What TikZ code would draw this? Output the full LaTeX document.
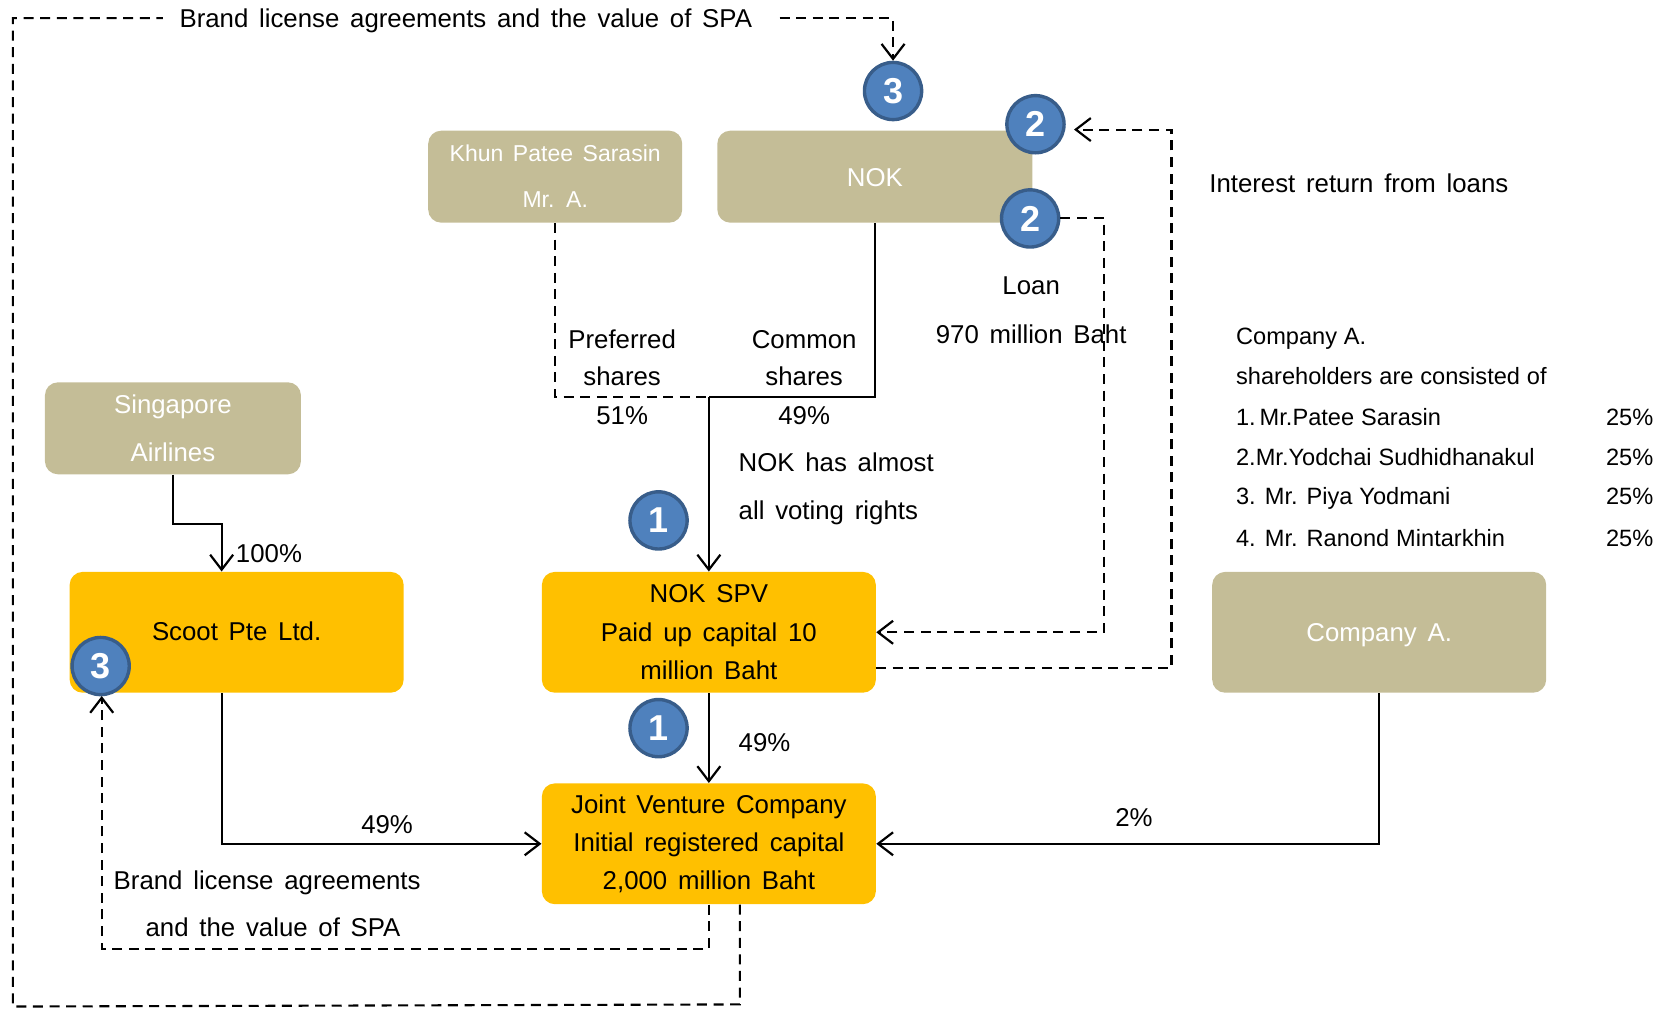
\documentclass[tikz,border=0pt]{standalone}
\usepackage{fontspec}
\setmainfont[WordSpace=1.5]{Liberation Sans}
\newfontfamily\tblfont[WordSpace=1.05]{Liberation Sans}
\usetikzlibrary{arrows.meta}
\definecolor{tan}{HTML}{C4BD97}
\definecolor{gold}{HTML}{FFC000}
\definecolor{ballfill}{HTML}{4F81BD}
\definecolor{ballline}{HTML}{385D8A}
\tikzset{
  x=0.5354pt,y=-0.5354pt,
  box/.style={rounded corners=6.5pt,minimum width=167pt,minimum height=60.4pt,inner sep=0pt,align=center,font=\fontsize{12.9}{19.1}\selectfont},
  tanbox/.style={box,fill=tan,text=white},
  goldbox/.style={box,fill=gold,text=black},
  ball/.style={circle,draw=ballline,line width=1.7pt,fill=ballfill,text=white,minimum size=28.6pt,inner sep=0pt,font=\fontsize{18}{18}\selectfont\bfseries},
  lbl/.style={anchor=base,inner sep=0pt,font=\fontsize{12.9}{15}\selectfont},
  lbll/.style={lbl,anchor=base west},
  tbl/.style={anchor=base west,inner sep=0pt,font=\tblfont\fontsize{11.8}{14}\selectfont},
  conn/.style={line width=1.1pt,black},
  dashln/.style={line width=1.05pt,black,dash pattern=on 5pt off 3.3pt},
  arrowed/.style={-{Straight Barb[length=7.5pt,width=11.5pt,line width=1.1pt]}},
}
\begin{document}
\begin{tikzpicture}
\useasboundingbox (0,0) rectangle (1568,943.2);
% boxes
\node[tanbox,minimum width=127pt,minimum height=46pt,font=\fontsize{11.5}{23}\selectfont] (khun) at (518.5,165) {\raisebox{0.7pt}{Khun Patee Sarasin}\\\raisebox{0.5pt}{Mr. A.}};
\node[tanbox,minimum width=157.5pt,minimum height=46pt] (nok) at (817,165) {\raisebox{-5pt}[0pt][0pt]{NOK}};
\node[tanbox,minimum width=128pt,minimum height=46pt,font=\fontsize{12.9}{24}\selectfont] (sing) at (161.5,400) {Singapore\\Airlines};
\node[goldbox] (scoot) at (221,590.5) {\raisebox{-3.9pt}[0pt][0pt]{Scoot Pte Ltd.}};
\node[goldbox] (spv) at (662,590.5) {NOK SPV\\Paid up capital 10\\million Baht};
\node[goldbox] (jv) at (662,788) {Joint Venture Company\\Initial registered capital\\2,000 million Baht};
\node[tanbox] (compa) at (1288,590.5) {\raisebox{-4.6pt}[0pt][0pt]{Company A.}};
% text labels
\node[lbl] (toplabel) at (435,26) {Brand license agreements and the value of SPA};
\node[lbl] (interest) at (1269,180) {Interest return from loans};
\node[lbl] (loan1) at (963,275) {Loan};
\node[lbl] (loan2) at (963,320.5) {970 million Baht};
\node[lbl] (pref1) at (581,325) {Preferred};
\node[lbl] (pref2) at (581,360) {shares};
\node[lbl] (pref3) at (581,396) {51\%};
\node[lbl] (comm1) at (751,325) {Common};
\node[lbl] (comm2) at (751,360) {shares};
\node[lbl] (comm3) at (751,396) {49\%};
\node[lbll] (vote1) at (689.5,440) {NOK has almost};
\node[lbll] (vote2) at (689.5,485) {all voting rights};
\node[lbll] (pct100) at (220,525) {100\%};
\node[lbll] (pct49b) at (689.5,702) {49\%};
\node[lbl] (pct49c) at (361.5,778) {49\%};
\node[lbl] (pct2) at (1059,772) {2\%};
\node[lbl] (brand1) at (249.5,831) {Brand license agreements};
\node[lbl] (brand2) at (255,875) {and the value of SPA};
\node[tbl] (t1) at (1154,322) {Company A.};
\node[tbl] (t2) at (1154,359) {shareholders are consisted of};
\node[tbl] (t3) at (1154,397) {1.\,Mr.Patee Sarasin};
\node[tbl] (t4) at (1154,435) {2.Mr.Yodchai Sudhidhanakul};
\node[tbl] (t5) at (1154,471) {3. Mr. Piya Yodmani};
\node[tbl] (t6) at (1154,510) {4. Mr. Ranond Mintarkhin};
\node[tbl] (p3) at (1499.5,397) {25\%};
\node[tbl] (p4) at (1499.5,435) {25\%};
\node[tbl] (p5) at (1499.5,471) {25\%};
\node[tbl] (p6) at (1499.5,510) {25\%};
% balls
\node[ball] (b3top) at (834,85) {3};
\node[ball] (b2up) at (967,116) {2};
\node[ball] (b2dn) at (962,204) {2};
\node[ball] (b1up) at (615,486) {1};
\node[ball] (b1dn) at (615,680) {1};
\node[ball] (b3sc) at (94,622) {3};
% bend and free-end coordinates
\coordinate (merge) at (662,371);
\coordinate (topL) at (152,17);
\coordinate (topR) at (728,17);
\coordinate (upTip) at (1003,121);
\coordinate (spvOut) at (818,624);
\coordinate (scTip) at (95,650);
% solid connectors
\draw[conn] (nok.south) |- (merge);
\draw[conn,arrowed] (merge) -- (spv.north);
\draw[conn,arrowed] (sing.south) -- (161.5,489) -| ([xshift=-7.5pt]scoot.north);
\draw[conn,arrowed] ([xshift=-7.5pt]scoot.south) |- (jv.west);
\draw[conn,arrowed] (spv.south) -- (jv.north);
\draw[conn,arrowed] (compa.south) |- (jv.east);
% dashed connectors
\draw[dashln] (khun.south) |- (merge);
\draw[dashln,arrowed] (b2dn.east) -- (1031,204) |- (spv.east);
\draw[dashln,arrowed] (spvOut) -- (1094,624) |- (upTip);
\draw[dashln,arrowed] (jv.south) -- (662,886) -| (scTip);
\draw[dashln] ([xshift=15.5pt]jv.south) -- (691,938) -- (12,940) -- (12,17) -- (topL);
\draw[dashln,arrowed] (topR) -| (b3top.north);
\end{tikzpicture}
\end{document}
